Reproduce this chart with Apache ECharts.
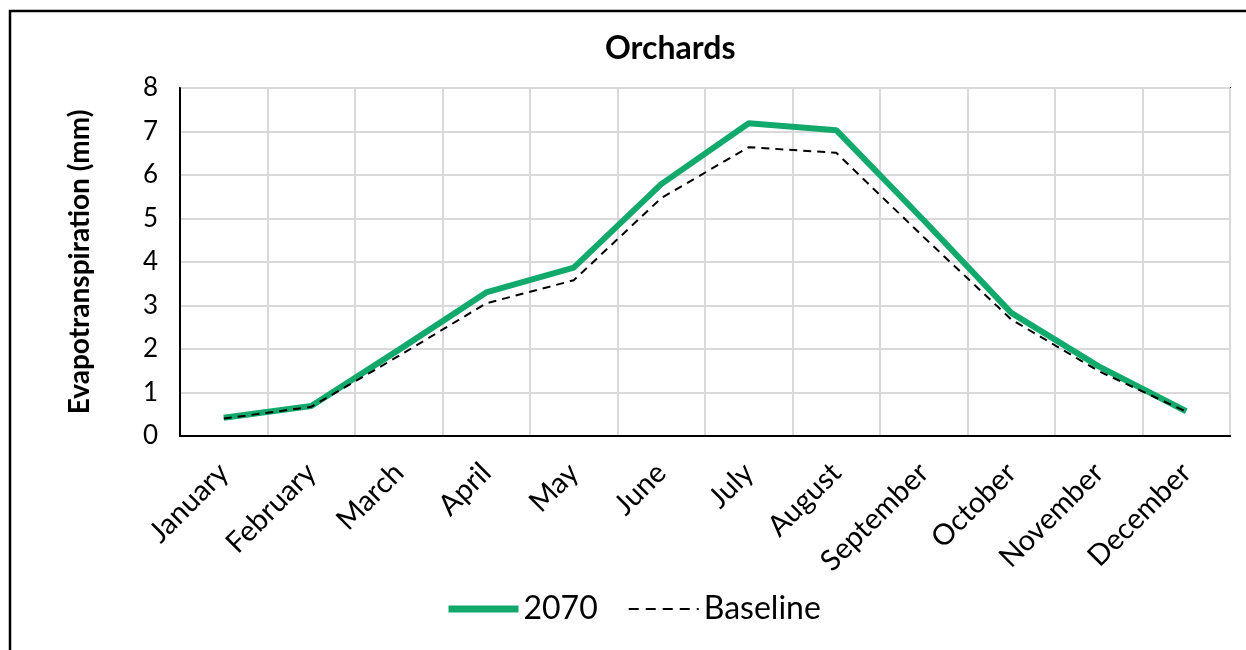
<!DOCTYPE html>
<html><head><meta charset="utf-8">
<script src="https://cdn.jsdelivr.net/npm/echarts@6/dist/echarts.min.js"></script>
<style>html,body{margin:0;padding:0;background:#fff}#c{width:1246px;height:650px}</style>
</head><body><div id="c"></div>
<script>
var months = ['January','February','March','April','May','June','July','August','September','October','November','December'];
var s2070 = [0.42, 0.69, 1.98, 3.30, 3.87, 5.79, 7.19, 7.03, 4.96, 2.83, 1.60, 0.57];
var baseline = [0.40, 0.67, 1.84, 3.05, 3.58, 5.47, 6.64, 6.51, 4.57, 2.68, 1.49, 0.56];
var yTicks = [0, 1, 2, 3, 4, 5, 6, 7, 8];
var FONT = 'Lato';
var chart = echarts.init(document.getElementById('c'), null, {renderer: 'canvas'});
chart.setOption({
  animation: false,
  backgroundColor: '#fff',
  textStyle: {fontFamily: FONT, color: '#000'},
  title: {text: 'Orchards', left: 600, top: 28, textStyle: {fontFamily: FONT, fontSize: 32, fontWeight: 'bold', color: '#000'}},
  graphic: [{type: 'polyline', shape: {points: [[10, 650], [10, 11], [1246, 11]]}, style: {stroke: '#000', lineWidth: 2.5, fill: null}}],
  grid: {left: 180, right: 16, top: 88, bottom: 214, show: true, borderColor: '#000', borderWidth: 2},
  legend: {
    bottom: 20, left: 440, itemWidth: 70, itemHeight: 10, itemGap: 30,
    itemStyle: {opacity: 0},
    textStyle: {fontFamily: FONT, fontSize: 32, color: '#000'},
    data: [
      {name: '2070', lineStyle: {width: 7, color: '#12a96c'}},
      {name: 'Baseline', lineStyle: {width: 2, color: '#000', type: [10, 7]}}
    ]
  },
  xAxis: {
    type: 'category', data: months, boundaryGap: true,
    axisLine: {show: true, lineStyle: {color: '#000', width: 2}},
    axisTick: {show: false},
    splitLine: {show: true, lineStyle: {color: '#d9d9d9', width: 2}},
    axisLabel: {rotate: 45, fontSize: 29, color: '#000', fontFamily: FONT, margin: 32, interval: 0}
  },
  yAxis: {
    type: 'value', min: 0, max: 8, interval: 1,
    name: 'Evapotranspiration (mm)', nameLocation: 'middle', nameGap: 86,
    nameTextStyle: {fontFamily: FONT, fontSize: 28, fontWeight: 'bold', color: '#000'},
    axisLine: {show: true, lineStyle: {color: '#000', width: 2}},
    axisTick: {show: false},
    splitLine: {show: true, lineStyle: {color: '#d9d9d9', width: 2}},
    axisLabel: {fontSize: 26, color: '#000', fontFamily: FONT, margin: 22,
      formatter: function (v) { return yTicks.indexOf(v) >= 0 ? String(v) : ''; }}
  },
  series: [
    {name: '2070', type: 'line', data: s2070, symbol: 'none', lineStyle: {color: '#12a96c', width: 6}, itemStyle: {color: '#12a96c'}, z: 2},
    {name: 'Baseline', type: 'line', data: baseline, symbol: 'none', lineStyle: {color: '#000', width: 2, type: [8, 6]}, itemStyle: {color: '#000'}, z: 3}
  ]
});
</script></body></html>
